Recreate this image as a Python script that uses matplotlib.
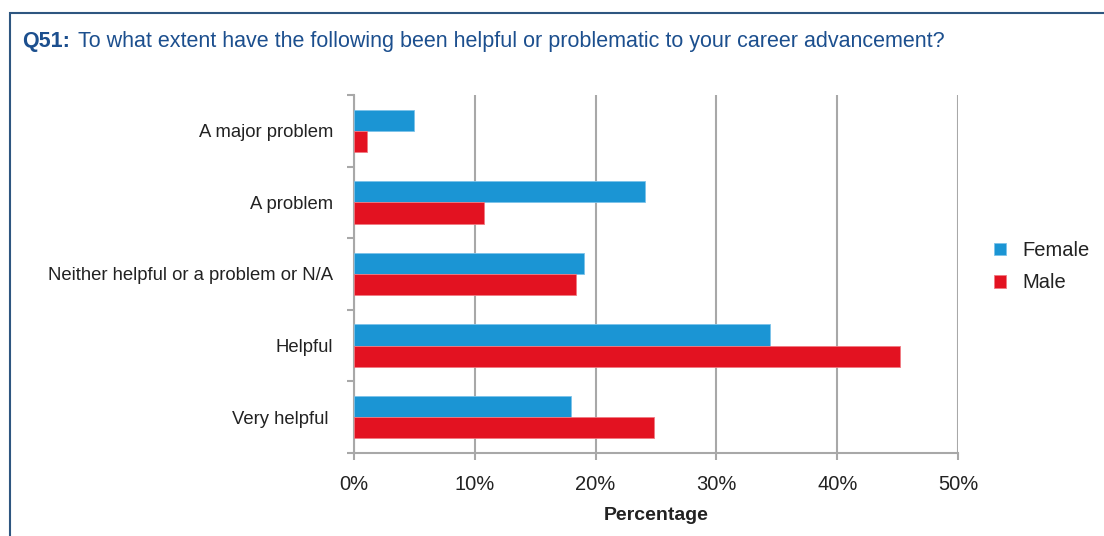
import numpy as np
import matplotlib.pyplot as plt
from matplotlib.patches import Rectangle
from matplotlib.ticker import FuncFormatter, FixedLocator
from matplotlib import font_manager

# Data (percent)
categories = ['A major problem', 'A problem', 'Neither helpful or a problem or N/A',
              'Helpful', 'Very helpful ']
female = [5.0, 24.1, 19.0, 34.4, 18.0]
male = [1.1, 10.8, 18.4, 45.2, 24.8]
x_ticks = [0, 10, 20, 30, 40, 50]

names = {f.name for f in font_manager.fontManager.ttflist}
base_font = 'Liberation Sans Narrow' if 'Liberation Sans Narrow' in names else 'Liberation Sans'
plt.rcParams['font.family'] = [base_font, 'DejaVu Sans']

FEMALE_C = '#1b95d4'
MALE_C = '#e31221'
GRID_C = '#a8a8a8'
TITLE_C = '#1c4f8e'
TEXT_C = '#222222'

W, H = 1104, 536
fig = plt.figure(figsize=(W / 100, H / 100), dpi=100)
ax = fig.add_axes([354 / W, 1 - 453 / H, (958 - 354) / W, (453 - 95) / H])

y = np.arange(len(categories))
h = 0.295
ax.barh(y - h / 2, female, height=h, color=FEMALE_C, edgecolor='#7cc3ea', linewidth=0.6, label='Female', zorder=3)
ax.barh(y + h / 2, male, height=h, color=MALE_C, edgecolor='#f07a82', linewidth=0.6, label='Male', zorder=3)

ax.set_ylim(len(categories) - 0.5, -0.5)
ax.set_xlim(0, 50)
ax.set_yticks(y)
ax.set_yticklabels(categories, fontsize=13.3, color=TEXT_C)
ax.yaxis.set_minor_locator(FixedLocator(np.arange(-0.5, len(categories), 1)))
ax.tick_params(axis='y', which='major', length=0, pad=15)
ax.tick_params(axis='y', which='minor', length=5, width=1.5, color=GRID_C)

ax.set_xticks(x_ticks)
ax.xaxis.set_major_formatter(FuncFormatter(lambda v, p: f'{v:.0f}%'))
ax.tick_params(axis='x', length=5, width=1.5, color=GRID_C, labelsize=14.5, labelcolor=TEXT_C, pad=11)
ax.set_xlabel('Percentage', fontsize=14, fontweight='bold', color=TEXT_C, labelpad=9)

ax.grid(axis='x', color=GRID_C, linewidth=1.5, zorder=0)
for s in ['top', 'right']:
    ax.spines[s].set_visible(False)
for s in ['left', 'bottom']:
    ax.spines[s].set_color(GRID_C)
    ax.spines[s].set_linewidth(1.5)

leg = ax.legend(loc='upper left', bbox_to_anchor=(976 / W, 1 - 223 / H), bbox_transform=fig.transFigure,
                frameon=False, fontsize=14.5, handlelength=0.6, handleheight=0.6, handletextpad=0.8,
                labelspacing=0.65)
for t in leg.get_texts():
    t.set_color(TEXT_C)

# Frame and title
fig.patches.append(Rectangle((10 / W, -0.1), 1.2, 1 - 13 / H + 0.1, transform=fig.transFigure,
                             fill=False, edgecolor='#2e5680', linewidth=1.5))
fig.text(22 / W, 1 - 41 / H, 'Q51:', fontsize=15.5, fontweight='bold', color=TITLE_C, va='center')
fig.text(78 / W, 1 - 41 / H, 'To what extent have the following been helpful or problematic to your career advancement?',
         fontsize=15.5, color=TITLE_C, va='center')

fig.savefig('out.png', dpi=100)
